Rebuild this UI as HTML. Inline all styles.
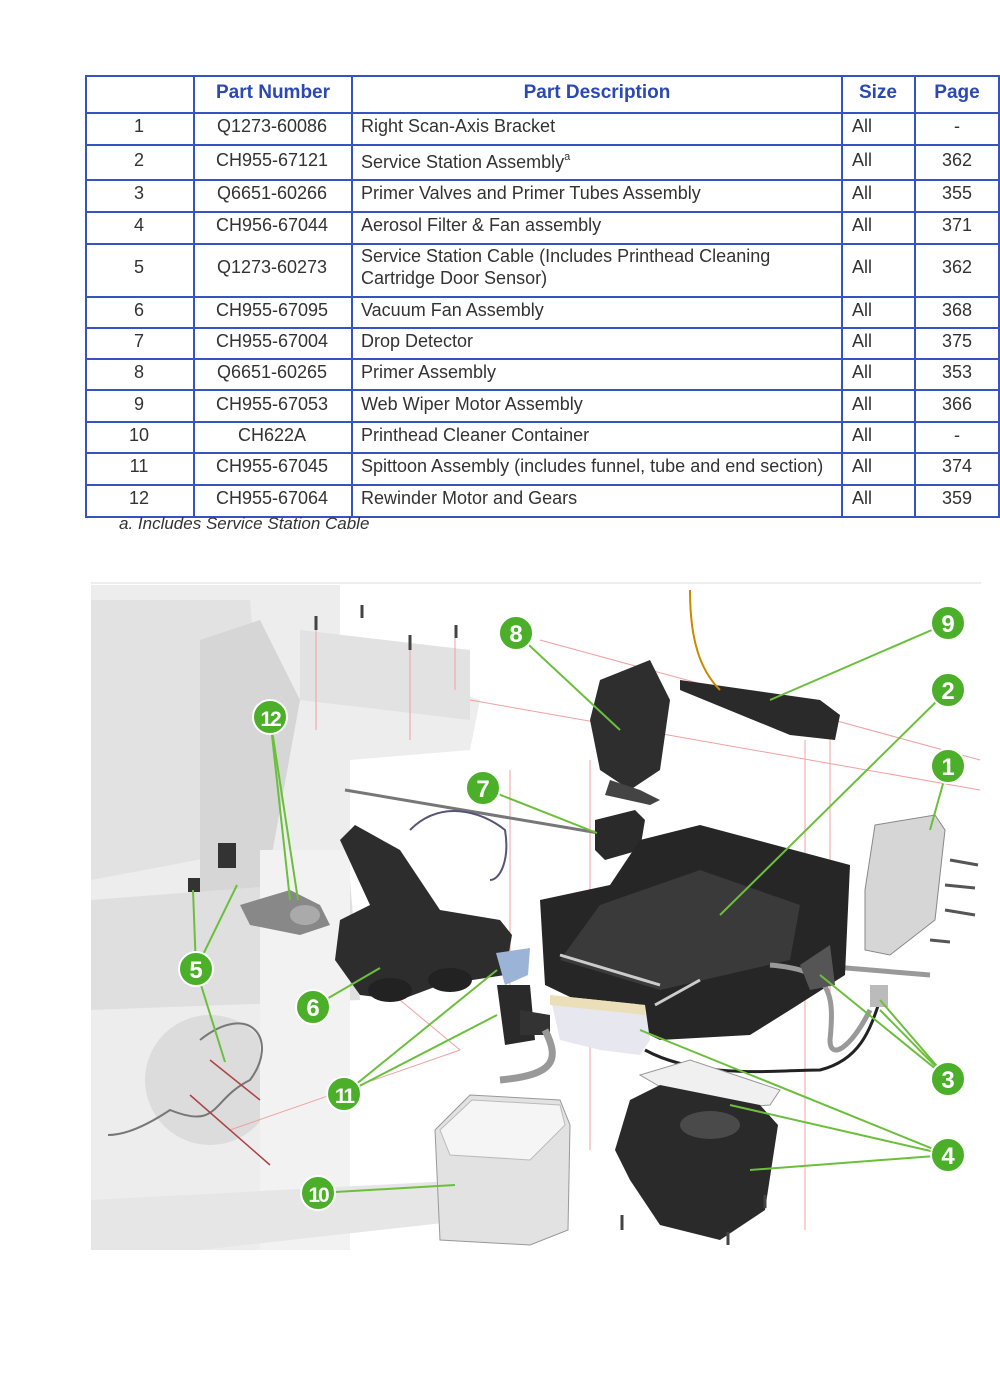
<!DOCTYPE html>
<html><head><meta charset="utf-8"><style>
body{margin:0;width:1000px;height:1392px;background:#fff;position:relative;overflow:hidden;font-family:"Liberation Sans",sans-serif}
svg{position:absolute;left:0;top:0}
</style></head><body>
<svg width="1000" height="1392" font-family="Liberation Sans,sans-serif">
<!-- table -->
<g stroke="#3553c2" stroke-width="2" fill="none">
<rect x="86" y="76" width="913" height="441"/>
<line x1="86" y1="113" x2="999" y2="113"/><line x1="86" y1="145" x2="999" y2="145"/><line x1="86" y1="180" x2="999" y2="180"/>
<line x1="86" y1="212" x2="999" y2="212"/><line x1="86" y1="244" x2="999" y2="244"/><line x1="86" y1="297" x2="999" y2="297"/>
<line x1="86" y1="328" x2="999" y2="328"/><line x1="86" y1="359" x2="999" y2="359"/><line x1="86" y1="390" x2="999" y2="390"/>
<line x1="86" y1="422" x2="999" y2="422"/><line x1="86" y1="453" x2="999" y2="453"/><line x1="86" y1="485" x2="999" y2="485"/>
<line x1="194" y1="76" x2="194" y2="517"/><line x1="352" y1="76" x2="352" y2="517"/><line x1="842" y1="76" x2="842" y2="517"/><line x1="915" y1="76" x2="915" y2="517"/>
</g>
<g fill="#2b48b5" font-weight="bold" font-size="19" text-anchor="middle">
<text x="273" y="98">Part Number</text><text x="597" y="98">Part Description</text><text x="878" y="98">Size</text><text x="957" y="98">Page</text>
</g>
<g fill="#333" font-size="18">
<g text-anchor="middle">
<text x="139" y="132">1</text><text x="272" y="132">Q1273-60086</text><text x="957" y="132">-</text>
<text x="139" y="166">2</text><text x="272" y="166">CH955-67121</text><text x="957" y="166">362</text>
<text x="139" y="199">3</text><text x="272" y="199">Q6651-60266</text><text x="957" y="199">355</text>
<text x="139" y="231">4</text><text x="272" y="231">CH956-67044</text><text x="957" y="231">371</text>
<text x="139" y="273">5</text><text x="272" y="273">Q1273-60273</text><text x="957" y="273">362</text>
<text x="139" y="316">6</text><text x="272" y="316">CH955-67095</text><text x="957" y="316">368</text>
<text x="139" y="347">7</text><text x="272" y="347">CH955-67004</text><text x="957" y="347">375</text>
<text x="139" y="378">8</text><text x="272" y="378">Q6651-60265</text><text x="957" y="378">353</text>
<text x="139" y="410">9</text><text x="272" y="410">CH955-67053</text><text x="957" y="410">366</text>
<text x="139" y="441">10</text><text x="272" y="441">CH622A</text><text x="957" y="441">-</text>
<text x="139" y="472">11</text><text x="272" y="472">CH955-67045</text><text x="957" y="472">374</text>
<text x="139" y="504">12</text><text x="272" y="504">CH955-67064</text><text x="957" y="504">359</text>
</g>
<g>
<text x="361" y="132">Right Scan-Axis Bracket</text>
<text x="361" y="168">Service Station Assembly<tspan font-size="11" dy="-8">a</tspan></text>
<text x="361" y="199">Primer Valves and Primer Tubes Assembly</text>
<text x="361" y="231">Aerosol Filter &amp; Fan assembly</text>
<text x="361" y="262">Service Station Cable (Includes Printhead Cleaning</text>
<text x="361" y="284">Cartridge Door Sensor)</text>
<text x="361" y="316">Vacuum Fan Assembly</text>
<text x="361" y="347">Drop Detector</text>
<text x="361" y="378">Primer Assembly</text>
<text x="361" y="410">Web Wiper Motor Assembly</text>
<text x="361" y="441">Printhead Cleaner Container</text>
<text x="361" y="472">Spittoon Assembly (includes funnel, tube and end section)</text>
<text x="361" y="504">Rewinder Motor and Gears</text>
</g>
<g font-size="18" text-anchor="start">
<text x="852" y="132">All</text><text x="852" y="166">All</text><text x="852" y="199">All</text><text x="852" y="231">All</text><text x="852" y="273">All</text><text x="852" y="316">All</text><text x="852" y="347">All</text><text x="852" y="378">All</text><text x="852" y="410">All</text><text x="852" y="441">All</text><text x="852" y="472">All</text><text x="852" y="504">All</text>
</g>
<text x="119" y="529" font-style="italic" font-size="17">a. Includes Service Station Cable</text>
</g>

<g>
<line x1="91" y1="583" x2="981" y2="583" stroke="#ddd"/>
<!-- faded printer -->
<polygon points="91,585 340,585 340,650 480,700 470,750 350,760 350,1250 91,1250" fill="#ededed"/>
<polygon points="91,600 250,600 260,720 250,850 91,880" fill="#e2e2e2"/>
<polygon points="200,640 260,620 300,700 260,920 200,920" fill="#d6d6d6"/>
<polygon points="91,900 350,880 360,1000 91,1010" fill="#dfdfdf"/>
<circle cx="210" cy="1080" r="65" fill="#dcdcdc"/>
<polygon points="260,850 350,850 350,1250 260,1250" fill="#f2f2f2"/>
<polygon points="91,1200 470,1180 470,1220 200,1250 91,1250" fill="#e6e6e6"/>
<polygon points="300,630 470,650 470,720 300,700" fill="#e2e2e2"/>
<g stroke="#f0a0a0" stroke-width="1" fill="none">
<line x1="316" y1="620" x2="316" y2="730"/><line x1="410" y1="640" x2="410" y2="740"/>
<line x1="455" y1="630" x2="455" y2="690"/><line x1="470" y1="700" x2="980" y2="790"/>
<line x1="510" y1="770" x2="510" y2="1000"/><line x1="590" y1="760" x2="590" y2="1150"/>
<line x1="805" y1="740" x2="805" y2="1230"/><line x1="830" y1="720" x2="830" y2="1000"/>
<line x1="230" y1="1130" x2="460" y2="1050"/><line x1="400" y1="1000" x2="460" y2="1050"/>
<line x1="540" y1="640" x2="980" y2="760"/>
</g>
<line x1="345" y1="790" x2="640" y2="840" stroke="#777" stroke-width="3"/>
<line x1="750" y1="960" x2="930" y2="975" stroke="#999" stroke-width="5"/>
<polygon points="680,680 820,700 840,715 835,740 790,735 680,690" fill="#2a2a2a"/>
<path d="M690,590 C690,640 700,670 720,690" stroke="#c80" stroke-width="2" fill="none"/>
<polygon points="600,680 650,660 670,700 660,770 630,790 600,770 590,720" fill="#2e2e2e"/>
<polygon points="610,780 640,790 660,800 650,805 605,795" fill="#444"/>
<polygon points="595,820 635,810 645,820 640,850 605,860 595,850" fill="#2a2a2a"/>
<polygon points="640,840 700,825 850,865 845,975 790,1010 750,1035 660,1040 545,985 540,900 610,885" fill="#262626"/>
<polygon points="600,905 700,870 800,905 790,960 660,990 560,960" fill="#3a3a3a"/>
<line x1="560" y1="955" x2="660" y2="985" stroke="#ccc" stroke-width="3"/>
<line x1="655" y1="1005" x2="700" y2="980" stroke="#ccc" stroke-width="3"/>
<polygon points="340,840 355,825 400,850 440,910 500,920 512,935 505,975 440,985 400,1000 360,995 335,960 340,920 370,905" fill="#2d2d2d"/>
<ellipse cx="390" cy="990" rx="22" ry="12" fill="#222"/><ellipse cx="450" cy="980" rx="22" ry="12" fill="#222"/>
<path d="M410,830 C440,800 480,810 505,830 C510,860 500,880 490,880" stroke="#557" stroke-width="2" fill="none"/>
<polygon points="240,905 290,890 320,905 330,925 300,935 250,925" fill="#888"/>
<ellipse cx="305" cy="915" rx="15" ry="10" fill="#aaa"/>
<rect x="218" y="843" width="18" height="25" fill="#333"/><rect x="188" y="878" width="12" height="14" fill="#333"/>
<path d="M200,1040 C250,1000 280,1040 250,1080 C210,1100 220,1130 170,1110 C140,1130 120,1135 108,1135" stroke="#777" stroke-width="2" fill="none"/>
<path d="M210,1060 L260,1100 M190,1095 L270,1165" stroke="#a44" stroke-width="1.5" fill="none"/>
<polygon points="496,953 530,948 528,975 505,985" fill="#9ab3d6"/>
<polygon points="497,985 530,985 535,1040 505,1045" fill="#2a2a2a"/>
<polygon points="520,1010 550,1015 550,1035 520,1035" fill="#333"/>
<path d="M545,1030 C560,1060 555,1075 500,1080" stroke="#999" stroke-width="7" fill="none"/>
<polygon points="550,995 645,1005 650,1040 640,1055 600,1050 560,1040" fill="#e7e7f0"/>
<polygon points="550,995 645,1005 645,1015 550,1005" fill="#eadfb8"/>
<path d="M645,1050 C700,1080 780,1070 820,1070 C860,1060 870,1030 880,1000" stroke="#222" stroke-width="3" fill="none"/>
<path d="M770,965 C830,970 835,990 830,1040 C830,1060 850,1050 870,1010" stroke="#999" stroke-width="5" fill="none"/>
<polygon points="800,965 830,945 835,985 810,990" fill="#555"/>
<rect x="870" y="985" width="18" height="22" fill="#bbb"/>
<polygon points="640,1075 690,1060 780,1090 770,1105 700,1110" fill="#f0f0f0" stroke="#999"/>
<polygon points="630,1100 660,1085 760,1105 778,1125 765,1210 720,1240 660,1225 630,1180 615,1150" fill="#2a2a2a"/>
<ellipse cx="710" cy="1125" rx="30" ry="14" fill="#4a4a4a"/>
<polygon points="875,825 935,815 945,830 935,920 890,955 865,950 865,890" fill="#d6d6d6" stroke="#888"/>
<g stroke="#555" stroke-width="3"><line x1="950" y1="860" x2="978" y2="865"/><line x1="945" y1="885" x2="975" y2="888"/><line x1="945" y1="910" x2="975" y2="915"/><line x1="930" y1="940" x2="950" y2="942"/></g>
<polygon points="435,1130 470,1095 560,1100 570,1125 568,1230 530,1245 440,1240" fill="#e2e2e2" stroke="#999"/>
<polygon points="440,1130 472,1100 560,1105 565,1125 530,1160 450,1155" fill="#f5f5f5" stroke="#bbb"/>
<g stroke="#444" stroke-width="3"><line x1="316" y1="616" x2="316" y2="630"/><line x1="362" y1="605" x2="362" y2="618"/><line x1="410" y1="635" x2="410" y2="650"/><line x1="456" y1="625" x2="456" y2="638"/><line x1="622" y1="1215" x2="622" y2="1230"/><line x1="728" y1="1232" x2="728" y2="1245"/><line x1="765" y1="1195" x2="765" y2="1208"/></g>
<g stroke="#6bbf3c" stroke-width="2" fill="none">
<line x1="516" y1="633" x2="620" y2="730"/>
<line x1="948" y1="623" x2="770" y2="700"/>
<line x1="948" y1="690" x2="720" y2="915"/>
<line x1="948" y1="766" x2="930" y2="830"/>
<line x1="270" y1="717" x2="298" y2="900"/><line x1="270" y1="717" x2="290" y2="900"/>
<line x1="483" y1="788" x2="597" y2="833"/>
<line x1="196" y1="969" x2="193" y2="890"/><line x1="196" y1="969" x2="237" y2="885"/><line x1="196" y1="969" x2="225" y2="1062"/>
<line x1="313" y1="1007" x2="380" y2="968"/>
<line x1="344" y1="1094" x2="497" y2="970"/><line x1="344" y1="1094" x2="497" y2="1015"/>
<line x1="948" y1="1079" x2="880" y2="1000"/><line x1="948" y1="1079" x2="820" y2="975"/><line x1="948" y1="1079" x2="880" y2="1010"/>
<line x1="948" y1="1155" x2="640" y2="1030"/><line x1="948" y1="1155" x2="730" y2="1105"/><line x1="948" y1="1155" x2="750" y2="1170"/>
<line x1="318" y1="1193" x2="455" y2="1185"/>
</g>
<g fill="#4caf2a" stroke="#fff" stroke-width="2">
<circle cx="516" cy="633" r="17"/><circle cx="948" cy="623" r="17"/><circle cx="948" cy="690" r="17"/><circle cx="948" cy="766" r="17"/>
<circle cx="270" cy="717" r="17"/><circle cx="483" cy="788" r="17"/><circle cx="196" cy="969" r="17"/><circle cx="313" cy="1007" r="17"/>
<circle cx="948" cy="1079" r="17"/><circle cx="344" cy="1094" r="17"/><circle cx="948" cy="1155" r="17"/><circle cx="318" cy="1193" r="17"/>
</g>
<g fill="#fff" font-weight="bold" font-size="24" text-anchor="middle">
<text x="516" y="642">8</text><text x="948" y="632">9</text><text x="948" y="699">2</text><text x="948" y="775">1</text>
<text x="270" y="726" font-size="21" letter-spacing="-2">12</text><text x="483" y="797">7</text><text x="196" y="978">5</text><text x="313" y="1016">6</text>
<text x="948" y="1088">3</text><text x="344" y="1103" font-size="21" letter-spacing="-2">11</text><text x="948" y="1164">4</text><text x="318" y="1202" font-size="21" letter-spacing="-2">10</text>
</g>
</g>
</svg>
</body></html>
